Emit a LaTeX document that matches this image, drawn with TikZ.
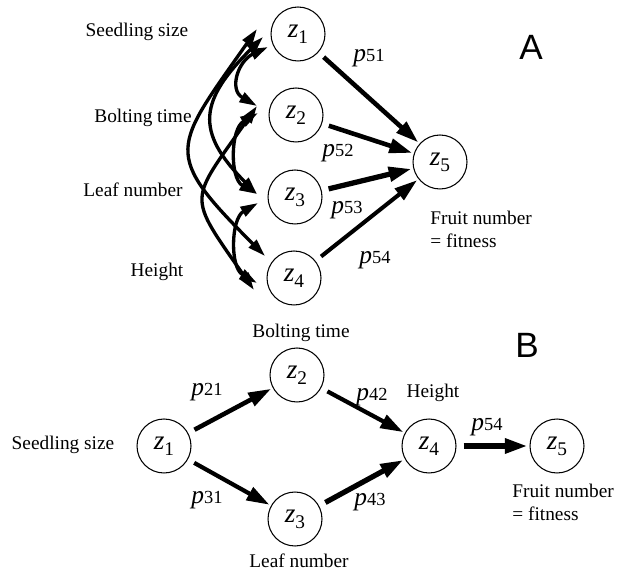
\documentclass[tikz,border=0pt]{standalone}
\usepackage{fontspec}
\setmainfont{Liberation Serif}
\newfontfamily\panelfont{Liberation Sans}
\usetikzlibrary{arrows.meta}

\newcommand{\zv}[1]{\textit{z}\raisebox{-0.5ex}{\fontsize{11}{11}\selectfont #1}}
\newcommand{\pv}[1]{\textit{p}{\fontsize{10.5}{10.5}\selectfont #1}}

\begin{document}
\begin{tikzpicture}[x=0.02cm, y=0.02cm,
  var/.style={circle, draw=black, line width=0.6pt, minimum size=1.08cm, inner sep=0pt, font=\fontsize{15.5}{15.5}\selectfont},
  lbl/.style={inner sep=0pt, font=\fontsize{11}{12.8}\selectfont},
  coef/.style={inner sep=0pt, font=\fontsize{14.5}{14.5}\selectfont},
  pth/.style={-{Triangle[length=13pt, width=8pt]}, line width=2.6pt, shorten <=4pt, shorten >=1pt},
  corr/.style={{Triangle[length=10pt, width=6pt]}-{Triangle[length=10pt, width=6pt]}, line width=1.9pt},
  panel/.style={inner sep=0pt, font=\panelfont\fontsize{20}{20}\selectfont}]
\useasboundingbox (0,0) rectangle (618,-573);

% panel A
\node[var] (a1) at (298,-34) {\zv{1}};
\node[var] (a2) at (296,-115) {\zv{2}};
\node[var] (a3) at (295,-197) {\zv{3}};
\node[var] (a4) at (294,-278) {\zv{4}};
\node[var] (a5) at (440,-162) {\zv{5}};

\node[lbl] (la1) at (137,-32) {Seedling size};
\node[lbl] (la2) at (143,-118) {Bolting time};
\node[lbl] (la3) at (133,-190) {Leaf number};
\node[lbl] (la4) at (157,-272) {Height};
\node[lbl, anchor=north west, align=left] (la5) at (430,-211) {Fruit number\\= fitness};
\node[panel] (pa) at (531,-47) {A};

\draw[pth] (a1) -- (a5);
\draw[pth] (a2) -- (a5);
\draw[pth, line width=3pt] (a3) -- (a5);
\draw[pth, line width=2.3pt] (a4) -- (a5);
\node[coef] (p51) at (369,-58) {\pv{51}};
\node[coef] (p52) at (338,-153) {\pv{52}};
\node[coef] (p53) at (347,-210) {\pv{53}};
\node[coef] (p54) at (375,-260) {\pv{54}};

% ends of the correlation arrows
\coordinate (u1a) at (257,-29);
\coordinate (u1b) at (263,-37);
\coordinate (u1c) at (268,-47);
\coordinate (u2a) at (257,-106);
\coordinate (u2b) at (258,-113);
\coordinate (u3a) at (257,-194);
\coordinate (u3b) at (258,-203);
\coordinate (u4a) at (265,-256);
\coordinate (u4b) at (257,-283);
\coordinate (u4c) at (254,-290);

\draw[corr] (u1c) to[out=205, in=150, looseness=1.4] (u2a);
\draw[corr] (u2b) to[out=210, in=150, looseness=1] (u3a);
\draw[corr] (u3b) to[out=210, in=150, looseness=1] (u4b);
\draw[corr] (u1b) to[out=225, in=135, looseness=1.45] (u3a);
\draw[corr] (u2a) to[out=235, in=125, looseness=1.65] (u4c);
\draw[corr] (u1a) to[out=235, in=135, looseness=1.65] (u4a);

% panel B
\node[var] (b1) at (164,-446) {\zv{1}};
\node[var] (b2) at (297,-375) {\zv{2}};
\node[var] (b3) at (295,-519) {\zv{3}};
\node[var] (b4) at (429,-446) {\zv{4}};
\node[var] (b5) at (557,-446) {\zv{5}};

\node[lbl] (lb1) at (63,-445) {Seedling size};
\node[lbl] (lb2) at (301,-333) {Bolting time};
\node[lbl] (lb3) at (299,-561) {Leaf number};
\node[lbl] (lb4) at (433,-393) {Height};
\node[lbl, anchor=north west, align=left] (lb5) at (512,-484) {Fruit number\\= fitness};
\node[panel] (pb) at (527,-345) {B};

\draw[pth] (b1) -- (b2);
\draw[pth, line width=2.4pt] (b1) -- (b3);
\draw[pth, line width=2.4pt] (b2) -- (b4);
\draw[pth, line width=3pt] (b3) -- (b4);
\draw[pth, line width=3.2pt] (b4) -- (b5);
\node[coef] (p21) at (207,-392) {\pv{21}};
\node[coef] (p31) at (207,-500) {\pv{31}};
\node[coef] (p42) at (372,-397) {\pv{42}};
\node[coef] (p43) at (370,-502) {\pv{43}};
\node[coef] (p54b) at (487,-427) {\pv{54}};
\end{tikzpicture}
\end{document}
